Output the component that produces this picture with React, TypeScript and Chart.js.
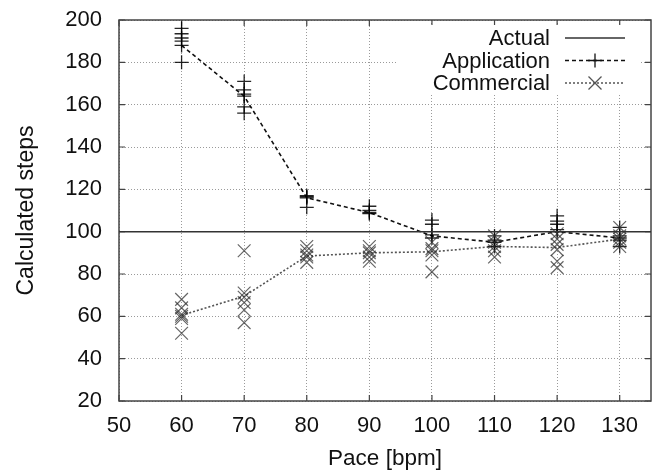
import { useEffect, useRef } from "react";
import { Chart, registerables } from "chart.js";
Chart.register(...registerables);

const paces = [60, 70, 80, 90, 100, 110, 120, 130];
const appMean = [188, 164, 116, 109, 98, 95, 100, 97];
const comMean = [60.5, 69.5, 88.5, 90, 90.5, 93, 92.5, 96.5];
const actualValue = 100;
const appTrials = [
  [196, 193.5, 191.5, 190, 188, 180],
  [171, 167, 165, 164, 159, 156],
  [117, 116.5, 116, 111.5],
  [112, 110, 109, 108.5],
  [105.5, 103.5, 98.5, 97],
  [98, 96, 95, 93],
  [107.5, 105, 103.5, 101, 100],
  [102, 98, 97, 96, 93],
];
const comTrials = [
  [68, 64, 61, 60, 59, 52],
  [91, 71, 69, 66.5, 63, 57],
  [93, 91, 89, 88, 85.5],
  [93, 91, 90, 88, 86],
  [95, 92, 91, 89, 81],
  [98, 95, 93, 91, 88],
  [99, 96.5, 94, 91.5, 86, 83],
  [102, 98, 96.5, 95, 93],
];
const xTicks = [50, 60, 70, 80, 90, 100, 110, 120, 130];
const yTicks = [20, 40, 60, 80, 100, 120, 140, 160, 180, 200];
const xRange = [50, 135];
const yRange = [20, 200];
const legendLabels = ["Actual", "Application", "Commercial"];
const xTitle = "Pace [bpm]";
const yTitle = "Calculated steps";

const FONT = "'Liberation Sans', Arial, Helvetica, sans-serif";
const APP_COLOR = "#111";
const COM_COLOR = "#555";

const framePlugin = {
  id: "gnuFrame",
  beforeDatasetsDraw(chart: any) {
    const { ctx, chartArea: a, scales } = chart;
    ctx.save();
    ctx.strokeStyle = "#444";
    ctx.lineWidth = 1.5;
    ctx.setLineDash([]);
    ctx.strokeRect(a.left, a.top, a.right - a.left, a.bottom - a.top);
    ctx.lineWidth = 1.2;
    const tl = 6;
    ctx.beginPath();
    for (const v of xTicks) {
      const x = scales.x.getPixelForValue(v);
      ctx.moveTo(x, a.bottom);
      ctx.lineTo(x, a.bottom - tl);
      ctx.moveTo(x, a.top);
      ctx.lineTo(x, a.top + tl);
    }
    for (const v of yTicks) {
      const y = scales.y.getPixelForValue(v);
      ctx.moveTo(a.left, y);
      ctx.lineTo(a.left + tl, y);
      ctx.moveTo(a.right, y);
      ctx.lineTo(a.right - tl, y);
    }
    ctx.stroke();
    ctx.restore();
  },
  afterDatasetsDraw(chart: any) {
    const { ctx, chartArea: a } = chart;
    ctx.save();
    ctx.fillStyle = "#fff";
    ctx.fillRect(a.right - 253, a.top + 5, 242, 70);
    ctx.font = `22px ${FONT}`;
    ctx.textAlign = "right";
    ctx.textBaseline = "middle";
    const styles = [
      { color: "#333", dash: [] as number[], marker: "" },
      { color: APP_COLOR, dash: [4, 3], marker: "cross" },
      { color: COM_COLOR, dash: [2, 2], marker: "crossRot" },
    ];
    legendLabels.forEach((label, i) => {
      const y = a.top + 18 + i * 22.5;
      ctx.fillStyle = "#111";
      ctx.fillText(label, a.right - 101, y + 1);
      const s = styles[i];
      ctx.strokeStyle = s.color;
      ctx.lineWidth = 1.5;
      ctx.setLineDash(s.dash);
      ctx.beginPath();
      ctx.moveTo(a.right - 86, y);
      ctx.lineTo(a.right - 26, y);
      ctx.stroke();
      ctx.setLineDash([]);
      const cx = a.right - 56;
      if (s.marker === "cross") {
        ctx.lineWidth = 1.3;
        ctx.beginPath();
        ctx.moveTo(cx - 7, y);
        ctx.lineTo(cx + 7, y);
        ctx.moveTo(cx, y - 7);
        ctx.lineTo(cx, y + 7);
        ctx.stroke();
      } else if (s.marker === "crossRot") {
        ctx.lineWidth = 1.3;
        ctx.beginPath();
        ctx.moveTo(cx - 6.5, y - 6.5);
        ctx.lineTo(cx + 6.5, y + 6.5);
        ctx.moveTo(cx - 6.5, y + 6.5);
        ctx.lineTo(cx + 6.5, y - 6.5);
        ctx.stroke();
      }
    });
    ctx.restore();
  },
};

const zeroPad = (s: any) => {
  s.paddingTop = 0;
  s.paddingBottom = 0;
  s.paddingLeft = 0;
  s.paddingRight = 0;
};

export default function App() {
  const ref = useRef<HTMLCanvasElement>(null);
  useEffect(() => {
    document.body.style.margin = "0";
    const appPts: any[] = [];
    const comPts: any[] = [];
    paces.forEach((p, i) => {
      appTrials[i].forEach((v) => appPts.push({ x: p, y: v }));
      comTrials[i].forEach((v) => comPts.push({ x: p, y: v }));
    });
    const chart = new Chart(ref.current as HTMLCanvasElement, {
      type: "scatter",
      data: {
        datasets: [
          {
            type: "line",
            label: legendLabels[0],
            data: [
              { x: xRange[0], y: actualValue },
              { x: xRange[1], y: actualValue },
            ],
            borderColor: "#333",
            borderWidth: 1.5,
            pointRadius: 0,
          },
          {
            label: legendLabels[2] + " trials",
            data: comPts,
            pointStyle: "crossRot",
            pointRadius: 9,
            borderColor: "rgba(50,50,50,0.75)",
            pointBorderWidth: 1.2,
          },
          {
            label: legendLabels[1] + " trials",
            data: appPts,
            pointStyle: "cross",
            pointRadius: 7,
            borderColor: "rgba(0,0,0,0.85)",
            pointBorderWidth: 1.3,
          },
          {
            type: "line",
            label: legendLabels[2],
            data: paces.map((p, i) => ({ x: p, y: comMean[i] })),
            borderColor: COM_COLOR,
            borderWidth: 1.6,
            borderDash: [2, 2],
            pointRadius: 0,
          },
          {
            type: "line",
            label: legendLabels[1],
            data: paces.map((p, i) => ({ x: p, y: appMean[i] })),
            borderColor: APP_COLOR,
            borderWidth: 1.6,
            borderDash: [4, 3],
            pointRadius: 0,
          },
        ],
      },
      options: {
        responsive: false,
        animation: false,
        layout: {
          autoPadding: false,
          padding: { left: 0, right: 6, top: 20, bottom: 0 },
        },
        plugins: { legend: { display: false }, tooltip: { enabled: false } },
        scales: {
          x: {
            type: "linear",
            min: xRange[0],
            max: xRange[1],
            afterBuildTicks: (s: any) => {
              s.ticks = xTicks.map((v) => ({ value: v }));
            },
            afterFit: (s: any) => {
              s.height = 69;
              zeroPad(s);
            },
            grid: { color: "#9a9a9a", lineWidth: 1, drawTicks: false },
            border: { display: false, dash: [1, 2] },
            ticks: {
              padding: 12,
              color: "#111",
              font: { family: FONT, size: 22 },
              maxRotation: 0,
            },
            title: {
              display: true,
              text: xTitle,
              color: "#111",
              font: { family: FONT, size: 22.5, lineHeight: 1 },
              padding: { top: 0, bottom: 0 },
            },
          },
          y: {
            type: "linear",
            min: yRange[0],
            max: yRange[1],
            afterBuildTicks: (s: any) => {
              s.ticks = yTicks.map((v) => ({ value: v }));
            },
            afterFit: (s: any) => {
              s.width = 119;
              zeroPad(s);
            },
            grid: { color: "#9a9a9a", lineWidth: 1, drawTicks: false },
            border: { display: false, dash: [1, 2] },
            ticks: {
              padding: 17,
              color: "#111",
              font: { family: FONT, size: 22 },
            },
            title: {
              display: true,
              text: yTitle,
              color: "#111",
              font: { family: FONT, size: 23, lineHeight: 1 },
              padding: { top: 15, bottom: 0 },
            },
          },
        },
      },
      plugins: [framePlugin],
    } as any);
    return () => chart.destroy();
  }, []);
  return (
    <canvas
      ref={ref}
      width={657}
      height={470}
      style={{ display: "block", width: 657, height: 470 }}
    />
  );
}
